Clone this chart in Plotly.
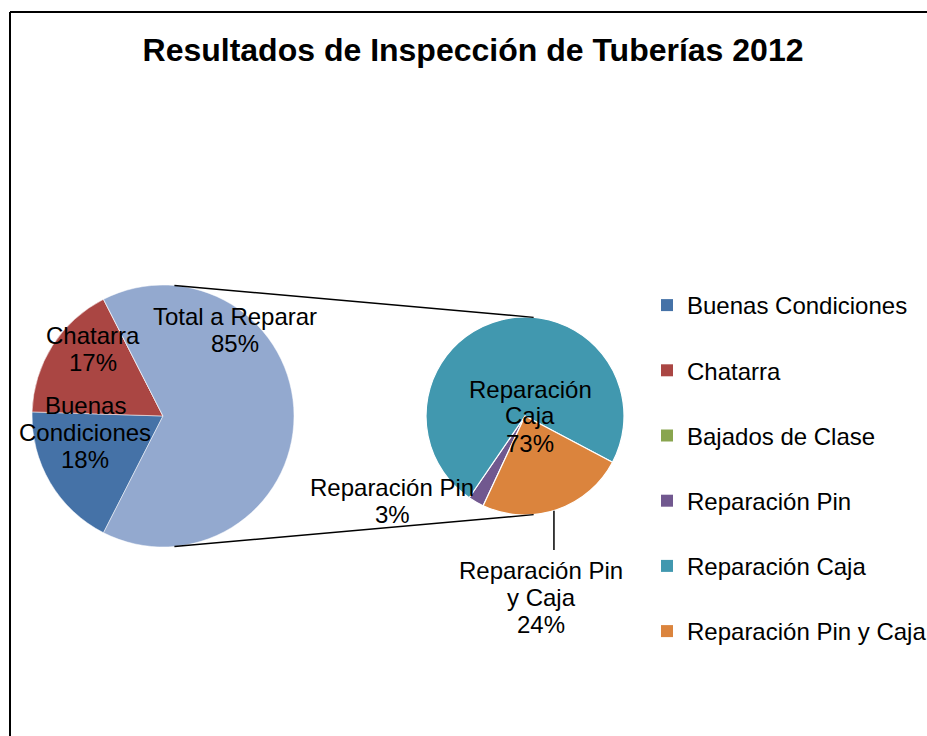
import math
import plotly.graph_objects as go

# ---------------- data ----------------
main_labels = ["Buenas Condiciones", "Chatarra", "Bajados de Clase", "Total a Reparar"]
main_values = [18, 17, 0, 65]
main_label_text = ["Buenas<br>Condiciones<br>18%", "Chatarra<br>17%", "", "Total a Reparar<br>85%"]

sub_labels = ["Reparación Pin", "Reparación Caja", "Reparación Pin y Caja"]
sub_values = [2.6, 73.2, 24.2]
sub_label_text = ["Reparación Pin<br>3%", "Reparación<br>Caja<br>73%", "Reparación Pin<br>y Caja<br>24%"]

legend_labels = ["Buenas Condiciones", "Chatarra", "Bajados de Clase",
                 "Reparación Pin", "Reparación Caja", "Reparación Pin y Caja"]

title_text = "Resultados de Inspección de Tuberías 2012"

# ---------------- styles ----------------
main_colors = ["#4572A7", "#AA4643", "#89A54E", "#93A9CF"]
sub_colors = ["#71588F", "#4198AF", "#DB843D"]
legend_colors = main_colors[:3] + sub_colors

W, H = 927, 736
FONT = "Liberation Sans, Arial, sans-serif"
LABEL_SIZE = 24
LINE_H = 27

# pie geometry (pixels)
main_c, main_r = (163, 416), 131
sub_c, sub_r = (525, 416), 99


def px(x):
    return x / W


def py(y):
    return 1 - y / H


def domain(c, r):
    return dict(x=[px(c[0] - r), px(c[0] + r)], y=[py(c[1] + r), py(c[1] - r)])


# the "other" slice is centred on the right side (90 deg)
total_share = main_values[-1] / sum(main_values)
main_rotation = (90 + 360 * total_share / 2) % 360

fig = go.Figure()
fig.add_trace(go.Pie(
    labels=main_labels, values=main_values, sort=False, direction="clockwise",
    rotation=main_rotation, domain=domain(main_c, main_r),
    marker=dict(colors=main_colors, line=dict(color="white", width=0.5)),
    textinfo="none", showlegend=False, hoverinfo="label+percent",
))
fig.add_trace(go.Pie(
    labels=sub_labels, values=sub_values, sort=False, direction="clockwise",
    rotation=205, domain=domain(sub_c, sub_r),
    marker=dict(colors=sub_colors, line=dict(color="white", width=1.2)),
    textinfo="none", showlegend=False, hoverinfo="label+percent",
))

# legend entries
for name, col in zip(legend_labels, legend_colors):
    fig.add_trace(go.Scatter(
        x=[None], y=[None], mode="markers", name=name, legendgroup=name,
        marker=dict(symbol="square", size=12, color=col),
    ))

# data labels (block centres in pixels, separate from data)
main_label_pos = [(85, 432), (93, 349), None, (235, 330)]
sub_label_pos = [(392, 501), (530, 416), (541, 597)]
annotations = []
for txt, pos in list(zip(main_label_text, main_label_pos)) + list(zip(sub_label_text, sub_label_pos)):
    if not txt or pos is None:
        continue
    lines = txt.split("<br>")
    n = len(lines)
    for i, line in enumerate(lines):
        yy = pos[1] + (i - (n - 1) / 2) * LINE_H
        annotations.append(dict(
            x=px(pos[0]), y=py(yy), xref="paper", yref="paper", text=line,
            showarrow=False, xanchor="center", yanchor="middle",
            font=dict(family=FONT, size=LABEL_SIZE, color="black"),
        ))

# connector lines between pies
shapes = []
ang = math.radians(5)
for sgn in (-1, 1):
    x0 = main_c[0] + main_r * math.sin(ang)
    y0 = main_c[1] + sgn * main_r * math.cos(ang)
    x1 = sub_c[0] + sub_r * math.sin(ang)
    y1 = sub_c[1] + sgn * sub_r * math.cos(ang)
    shapes.append(dict(type="line", xref="paper", yref="paper",
                       x0=px(x0), y0=py(y0), x1=px(x1), y1=py(y1),
                       line=dict(color="black", width=1.5)))
# leader line for "Reparación Pin y Caja"
la = math.radians(163)
lx = sub_c[0] + sub_r * math.sin(la)
ly = sub_c[1] - sub_r * math.cos(la)
shapes.append(dict(type="line", xref="paper", yref="paper",
                   x0=px(lx), y0=py(ly), x1=px(lx), y1=py(550),
                   line=dict(color="black", width=1.5)))
# chart frame (top and left edges visible)
shapes.append(dict(type="line", xref="paper", yref="paper", x0=px(10), y0=py(12), x1=1, y1=py(12),
                   line=dict(color="black", width=2)))
shapes.append(dict(type="line", xref="paper", yref="paper", x0=px(10), y0=py(12), x1=px(10), y1=0,
                   line=dict(color="black", width=2)))

fig.update_layout(
    width=W, height=H,
    margin=dict(l=0, r=0, t=0, b=0, pad=0, autoexpand=False),
    paper_bgcolor="white", plot_bgcolor="white",
    font=dict(family=FONT, size=24, color="black"),
    title=dict(text=title_text, x=px(473), xanchor="center", y=py(50), yanchor="middle",
               yref="container", xref="container",
               font=dict(family=FONT, size=32, color="black", weight="bold")),
    xaxis=dict(visible=False), yaxis=dict(visible=False),
    legend=dict(x=px(647), y=py(283), xanchor="left", yanchor="top",
                font=dict(family=FONT, size=24, color="black"),
                tracegroupgap=31, bgcolor="rgba(0,0,0,0)"),
    annotations=annotations, shapes=shapes,
)

fig.write_html(
    "out.html", config={"displayModeBar": False},
    post_script=("document.documentElement.style.margin='0';"
                 "document.documentElement.style.overflow='hidden';"
                 "document.body.style.margin='0';"
                 "document.body.style.overflow='hidden';"),
)
